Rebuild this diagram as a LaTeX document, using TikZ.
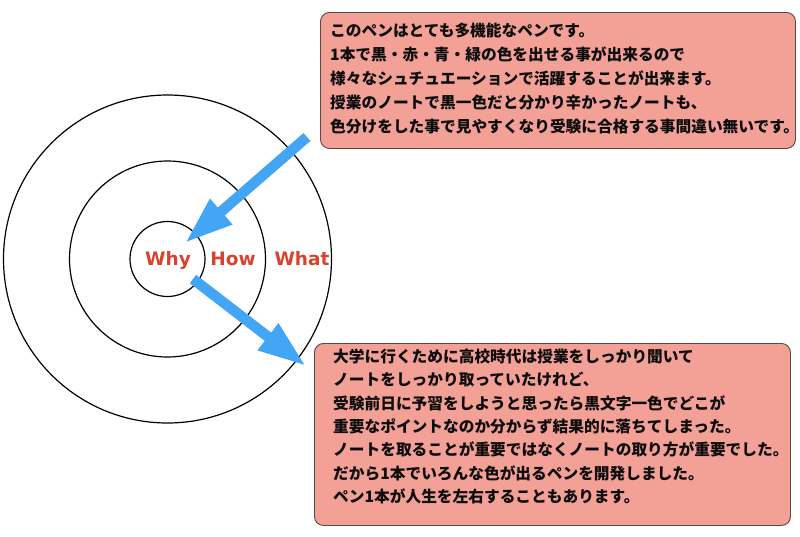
\documentclass[tikz,border=0pt]{standalone}
\usepackage{fontspec}
\newfontfamily\jp{Noto Sans CJK JP}
\newfontfamily\lat{DejaVu Sans}
\usetikzlibrary{arrows.meta,calc}
\definecolor{boxfill}{RGB}{243,160,151}
\definecolor{boxline}{RGB}{90,72,70}
\definecolor{arrowblue}{RGB}{66,165,245}
\definecolor{wordred}{RGB}{216,67,46}
\begin{document}
\begin{tikzpicture}[x=1pt,y=-1pt,
  ring/.style={circle,draw=black,line width=1.2pt,inner sep=0pt},
  word/.style={text=wordred,font=\lat\bfseries\fontsize{18.5}{20}\selectfont,inner sep=0pt,anchor=base},
  card/.style={draw=boxline,fill=boxfill,line width=0.9pt,rounded corners=9pt,inner sep=0pt,anchor=north west},
  txt/.style={align=left,inner sep=0pt,text=black!95,anchor=north west},
  bigarrow/.style={draw=arrowblue,line width=10.5pt,-{Triangle[length=48pt,width=31pt]}}]
\useasboundingbox (0,0) rectangle (800,536);
\fill[white] (0,0) rectangle (800,536);
% target circles
\node[ring,minimum size=75] (cwhy) at (167.5,259) {};
\node[ring,minimum size=196] (chow) at (167.5,259) {};
\node[ring,minimum size=328] (cwhat) at (167.5,259) {};
\node[word] (why) at (168,265) {Why};
\node[word] (how) at (233,265) {How};
\node[word] (what) at (302,265) {What};
% cards
\node[card,minimum width=475,minimum height=136] (card1) at (320,12) {};
\node[card,minimum width=476,minimum height=182] (card2) at (314,343) {};
\node[txt,font=\jp\bfseries\fontsize{15.7}{24}\selectfont] (text1) at ($(card1.north west)+(10,10.5)$) {%
このペンはとても多機能なペンです。\\
1本で黒・赤・青・緑の色を出せる事が出来るので\\
様々なシュチュエーションで活躍することが出来ます。\\
授業のノートで黒一色だと分かり辛かったノートも、\\
色分けをした事で見やすくなり受験に合格する事間違い無いです。};
\node[txt,font=\jp\bfseries\fontsize{15.7}{23.4}\selectfont] (text2) at ($(card2.north west)+(19,5.5)$) {%
大学に行くために高校時代は授業をしっかり聞いて\\
ノートをしっかり取っていたけれど、\\
受験前日に予習をしようと思ったら黒文字一色でどこが\\
重要なポイントなのか分からず結果的に落ちてしまった。\\
ノートを取ることが重要ではなくノートの取り方が重要でした。\\
だから1本でいろんな色が出るペンを開発しました。\\
ペン1本が人生を左右することもあります。};
% arrows
\coordinate (a1s) at (307,137);
\coordinate (a1e) at (185,243);
\coordinate (a2s) at (193,279);
\coordinate (a2e) at (306,366);
\draw[bigarrow] (a1s) -- (a1e);
\draw[bigarrow] (a2s) -- (a2e);
\end{tikzpicture}
\end{document}
